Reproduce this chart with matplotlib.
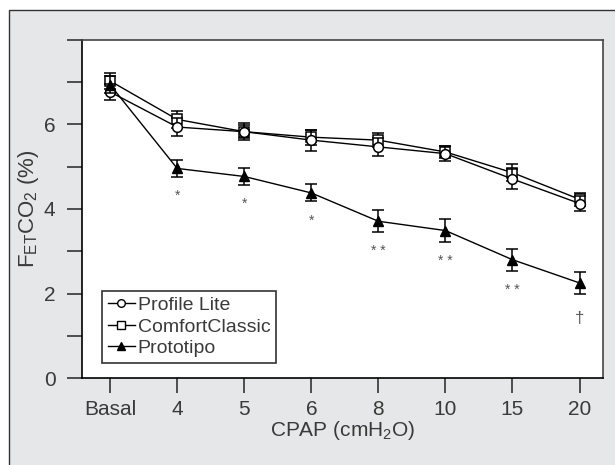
import matplotlib
matplotlib.use('Agg')
import matplotlib.pyplot as plt
from matplotlib.patches import Rectangle
from matplotlib.lines import Line2D

plt.rcParams['font.family'] = ['Liberation Sans', 'DejaVu Sans']
plt.rcParams['mathtext.default'] = 'regular'

# data
categories = ['Basal', '4', '5', '6', '8', '10', '15', '20']
profile_lite = [6.77, 5.94, 5.83, 5.63, 5.47, 5.31, 4.71, 4.13]
profile_lite_err = [0.20, 0.22, 0.20, 0.25, 0.22, 0.17, 0.24, 0.17]
comfort_classic = [7.03, 6.12, 5.83, 5.70, 5.63, 5.35, 4.86, 4.23]
comfort_classic_err = [0.18, 0.20, 0.15, 0.18, 0.17, 0.14, 0.20, 0.16]
prototipo = [6.94, 4.96, 4.77, 4.38, 3.71, 3.49, 2.80, 2.25]
prototipo_err = [0.20, 0.20, 0.20, 0.20, 0.26, 0.27, 0.26, 0.26]
signif = ['', '*', '*', '*', '* *', '* *', '* *', '\u2020']

text_col = '#3a3a3a'
bg_col = '#e6e7e8'

fig = plt.figure(figsize=(6.15, 4.65), dpi=100)
fig.patch.set_facecolor('white')
fig.patches.append(Rectangle((8.5 / 615, -0.1), 1.2, (465 - 10.5) / 465 + 0.1,
                             transform=fig.transFigure, facecolor=bg_col,
                             edgecolor='#333333', linewidth=1.0, zorder=-10))

ax = fig.add_axes([82 / 615, 87 / 465, 521 / 615, 338 / 465])
ax.set_facecolor('white')

x = list(range(len(categories)))
ekw = dict(color='black', linewidth=1.0, capsize=4, capthick=1.1, elinewidth=1.1)
ax.errorbar(x, profile_lite, yerr=profile_lite_err, marker='o', markersize=7,
            markerfacecolor='white', markeredgecolor='black', markeredgewidth=1.1, zorder=4, **ekw)
ax.errorbar(x, comfort_classic, yerr=comfort_classic_err, marker='s', markersize=6.5,
            markerfacecolor='white', markeredgecolor='black', markeredgewidth=1.1, zorder=3, **ekw)
ax.errorbar(x, prototipo, yerr=prototipo_err, marker='^', markersize=7.5,
            markerfacecolor='black', markeredgecolor='black', zorder=5, **ekw)

for i, s in enumerate(signif):
    if s:
        off = 0.45 if s != '\u2020' else 0.58
        ax.text(x[i], prototipo[i] - prototipo_err[i] - off, s, ha='center', va='center',
                fontsize=10 if s != '\u2020' else 12, color='#555555')

ax.set_xlim(-0.42, 7.35)
ax.set_ylim(0, 8)
ax.set_xticks(x)
ax.set_xticklabels(categories)
ax.set_yticks(range(0, 9))
ax.set_yticklabels(['0', '', '2', '', '4', '', '6', '', ''])

for side in ['left', 'bottom']:
    ax.spines[side].set_color('black')
    ax.spines[side].set_linewidth(1.2)
for side in ['top', 'right']:
    ax.spines[side].set_color('#444444')
    ax.spines[side].set_linewidth(1.2)

ax.tick_params(axis='both', direction='out', length=11, width=1.2, color='#333333',
               labelsize=15, labelcolor=text_col)
ax.tick_params(axis='y', pad=8)
ax.tick_params(axis='x', pad=5)

ax.set_xlabel('CPAP (cmH$_2$O)', fontsize=15, color=text_col, labelpad=0)
ax.set_ylabel('F$_{ET}$CO$_2$ (%)', fontsize=16, color=text_col, labelpad=2)

handles = [
    Line2D([], [], color='black', lw=1.0, marker='o', markersize=5.5,
           markerfacecolor='white', markeredgecolor='black'),
    Line2D([], [], color='black', lw=1.0, marker='s', markersize=5.5,
           markerfacecolor='white', markeredgecolor='black'),
    Line2D([], [], color='black', lw=1.0, marker='^', markersize=6,
           markerfacecolor='black', markeredgecolor='black'),
]
leg = ax.legend(handles, ['Profile Lite', 'ComfortClassic', 'Prototipo'],
                loc='lower left', bbox_to_anchor=(0.038, 0.044), fontsize=14,
                frameon=True, fancybox=False, handlelength=1.4, handletextpad=0.15,
                borderpad=0.3, labelspacing=0.2, borderaxespad=0)
leg.get_frame().set_edgecolor('black')
leg.get_frame().set_linewidth(1.2)
for t in leg.get_texts():
    t.set_color(text_col)

fig.savefig('out.png', dpi=100, facecolor=fig.get_facecolor())
